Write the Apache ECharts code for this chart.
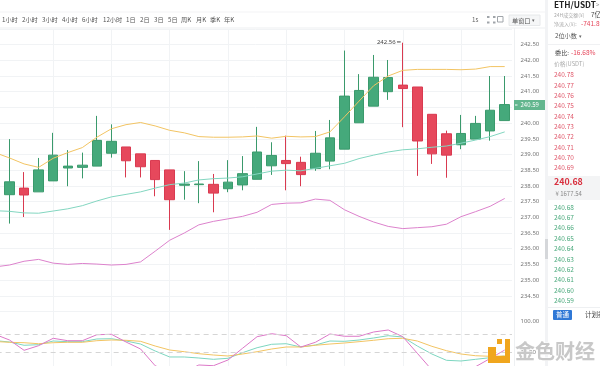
<!DOCTYPE html>
<html><head><meta charset="utf-8">
<style>html,body{margin:0;padding:0;background:#fff}#c{width:600px;height:366px}</style>
<script src="https://cdn.jsdelivr.net/npm/echarts@6/dist/echarts.min.js"></script>
</head><body><div id="c"></div>
<script>
// [open, close, low, high]; first slot is the bar cut off by the left edge of the window
const candles = [
 ['-','-','-','-'],
 [237.72,238.13,236.80,239.49],[237.93,237.71,237.01,238.44],[237.81,238.51,237.81,238.89],[238.16,238.98,238.16,239.69],
 [238.57,238.63,237.99,239.14],[238.59,238.66,238.24,239.06],[238.63,239.45,238.63,240.23],[239.04,239.42,238.90,239.96],
 [239.24,238.80,238.27,239.24],[239.02,238.61,238.27,239.02],[238.81,238.20,237.67,238.81],[238.51,237.56,236.60,238.51],
 [238.02,238.06,237.56,238.47],[238.04,238.06,237.45,238.79],[238.05,237.77,237.16,238.38],[237.91,238.12,237.80,238.82],
 [238.03,238.39,237.86,238.95],[238.21,239.08,238.21,239.88],[238.64,238.97,238.35,239.39],[238.81,238.71,237.86,239.60],
 [238.75,238.36,237.99,238.93],[238.55,239.04,238.48,239.75],[238.79,239.53,238.53,240.10],[239.17,240.86,239.17,242.31],
 [240.01,241.04,240.01,241.56],[240.54,241.46,240.54,242.17],[241.00,241.45,240.74,242.01],[241.21,241.10,239.87,242.56],
 [241.15,239.43,238.32,241.15],[240.28,239.02,238.70,240.28],[239.66,238.98,238.26,239.76],[239.31,239.67,239.17,240.26],
 [239.49,239.99,239.49,240.23],[239.75,240.41,239.44,241.50],[240.08,240.59,240.08,241.50]
];
const maOrange = [239.06,238.89,238.70,238.59,238.88,239.06,239.22,239.55,239.82,239.95,240.02,239.91,239.77,239.69,239.57,239.55,239.55,239.56,239.59,239.52,239.58,239.56,239.57,239.72,240.20,240.70,241.19,241.50,241.68,241.71,241.71,241.71,241.70,241.72,241.80,241.80];
const maTeal = [237.21,237.19,237.14,237.13,237.20,237.27,237.37,237.52,237.65,237.73,237.81,237.93,238.04,238.09,238.19,238.23,238.25,238.29,238.38,238.47,238.50,238.48,238.56,238.64,238.72,238.87,238.98,239.08,239.15,239.18,239.23,239.27,239.36,239.46,239.57,239.72];
const maPink = [235.42,235.48,235.60,235.66,235.54,235.50,235.53,235.51,235.48,235.50,235.58,235.92,236.27,236.50,236.76,236.87,236.95,237.03,237.16,237.41,237.45,237.46,237.58,237.54,237.24,237.03,236.85,236.71,236.64,236.67,236.70,236.78,237.02,237.18,237.35,237.60];
const kLine = [56,52.9,45.6,46.9,55.1,53.6,53.6,59.6,60.2,55.1,48.4,32.9,19.6,19.6,17.3,14.4,16.7,29.1,40.2,47.8,49.1,41.8,46.2,55.1,54.4,57.3,61.8,66.9,64,44,26.2,12.2,10.7,14.4,18,21.8];
const dLine = [54,52.2,51.3,49.1,51.3,52.2,52.2,55.8,57.3,56.7,54.4,44,35.1,31.3,26.9,24,21.8,26.2,31.3,37.3,41.8,41.8,45.6,48.4,50.7,53.6,56.7,60.2,61.1,55.1,43.3,33.6,26.2,22.4,21.1,21.8];
const jLine = [70,57.3,34.4,44.7,61.1,55.8,55.8,69.1,70,52.9,37.3,0.2,-13.8,-13.8,1.8,0.2,12.9,38.9,64.7,71.3,66.9,41.8,52.2,70.7,65.6,65.6,75.1,79.6,64.7,27.8,-9.3,-31.5,-31.5,-2,16.2,35.1];
const categories = candles.map((_, i) => String(i));
const periodTabs = [['1小时',2],['2小时',22],['3小时',42],['4小时',62],['6小时',82],['12小时',103],['1日',126],['2日',140],['3日',154],['5日',168],['周K',181],['月K',196],['季K',210],['年K',224]];
const askPrices = ['240.78','240.77','240.76','240.75','240.74','240.73','240.72','240.71','240.70','240.69'];
const bidPrices = ['240.68','240.67','240.66','240.65','240.64','240.63','240.62','240.61','240.60','240.59'];
const lastPrice = 240.59, highPrice = 242.56;

const UP='#45a97b', UPB='#3a9a6c', DN='#e6485c', DNB='#d93a50';
const FONT='"Noto Sans CJK SC","Noto Sans",sans-serif';
const txt=(x,y,t,o={})=>({type:'text',x,y,silent:true,z:o.z||20,style:{text:t,fill:o.c||'#666',font:(o.w||'normal')+' '+(o.s||6.2)+'px '+FONT,textVerticalAlign:'middle',opacity:o.o==null?1:o.o}});
const rect=(x,y,w,h,f,o={})=>({type:'rect',silent:true,z:o.z||10,shape:{x,y,width:w,height:h,r:o.r||0},style:{fill:f,stroke:o.s||null,lineWidth:o.s?1:0,opacity:o.o==null?1:o.o}});

const g=[];
g.push(rect(0,0,545,28,'#fff',{z:5}));
g.push(rect(0,11.5,545,1,'#f3f4f6',{z:6}));
g.push(rect(0,27.5,545,1,'#eef0f2',{z:6}));
g.push(rect(514,28,1,338,'#eef0f2',{z:6}));
periodTabs.forEach(p=>g.push(txt(p[1],20,p[0],{c:'#555'})));
g.push(txt(472,20,'1s',{c:'#666'}));
// screen / layout icons
[[487,16],[493,16],[487,21.5],[493,21.5]].forEach(p=>g.push(rect(p[0],p[1],2.5,2,'#a0a5aa',{z:12})));
g.push(rect(497.5,16.5,5.5,5.5,'#fff',{s:'#a0a5aa',z:12}));
g.push(rect(509,15,31,10.5,'#f5f6f7',{s:'#e6e8ea',z:12}));
g.push(txt(512,20.5,'单窗口',{c:'#555'}));
g.push(txt(532,20.5,'▾',{c:'#666',s:5}));
// right panel
g.push(rect(545,0,55,366,'#fff',{z:10}));
g.push(rect(545,0,3,366,'#f2f3f5',{z:11}));
g.push(rect(545,239,3,20,'#d5d7da',{z:12}));
g.push(txt(554,5,'ETH/USDT',{c:'#222',s:8.3,w:'bold'}));
g.push(txt(596,5,'>',{c:'#888',s:6}));
g.push(txt(554,15,'24H成交额(¥)',{c:'#aaa',s:5}));
g.push(txt(591,15,'7亿',{c:'#444',s:6.5}));
g.push(txt(554,24,'净流入(¥):',{c:'#aaa',s:5}));
g.push(txt(581,24,'-741.89',{c:'#e6485c',s:6.5}));
g.push(txt(555,36,'2位小数',{c:'#555'}));
g.push(txt(579,36,'▾',{c:'#666',s:5}));
g.push(rect(548,44,52,1,'#f0f1f3',{z:12}));
g.push(txt(555,52.5,'委比:',{c:'#444'}));
g.push(txt(571,52.5,'-16.68%',{c:'#e6485c',s:6.5}));
g.push(txt(554,64,'价格(USDT)',{c:'#aaa',s:5.8}));
askPrices.forEach((p,i)=>g.push(txt(554,74.7+i*10.35,p,{c:'#e05a6c',s:6.5})));
g.push(rect(548,176,52,24,'#f3f4f5',{z:11}));
g.push(txt(554,182,'240.68',{c:'#d9303f',s:8.8,w:'bold'}));
g.push(txt(555.5,193.5,'¥ 1677.54',{c:'#888',s:6}));
bidPrices.forEach((p,i)=>g.push(txt(554,207.3+i*10.35,p,{c:'#4aa97c',s:6.5})));
g.push(rect(548,307,52,1,'#eef0f2',{z:12}));
g.push(rect(553,310,19,10,'#2f78d6',{z:12,r:1}));
g.push(txt(556,315,'普通',{c:'#fff',s:6.5}));
g.push(txt(585,315,'计划委托',{c:'#444',s:6.5}));
// last-price tag
g.push(rect(514,100,31,10,'#62b68e',{z:13}));
g.push(rect(515,104.5,2.5,1,'#fff',{z:14}));
g.push(txt(520.5,105,lastPrice.toFixed(2),{c:'#fff',s:6,z:14}));
// watermark
g.push(rect(497,339,5,5,'#f0a61e',{z:30}));
g.push(rect(505,339,5,24,'#f0a61e',{z:30}));
g.push(rect(488,356,22,7,'#f0a61e',{z:30}));
g.push(rect(488,347,8,16,'#f0a61e',{z:30}));
g.push({type:'text',x:515,y:351,silent:true,z:33,style:{text:'金色财经',fill:'#c8c8c8',stroke:'#fff',lineWidth:1,font:'bold 20px '+FONT,textVerticalAlign:'middle'}});

const line=(name,data,color,xi,yi,w)=>({name,type:'line',data,xAxisIndex:xi,yAxisIndex:yi,symbol:'none',smooth:false,animation:false,silent:true,lineStyle:{color,width:w||1},z:3});
const chart=echarts.init(document.getElementById('c'),null,{renderer:'canvas'});
const W=14.565;
const splitX={show:true,alignWithLabel:true,interval:(i)=>i>0&&i%4===0,lineStyle:{color:'#f1f3f5',width:1}};
const axisFont={color:'#777',fontSize:6,fontFamily:'"Noto Sans",sans-serif',margin:6.5};
chart.setOption({
 animation:false,
 backgroundColor:'#fff',
 grid:[
  {left:9.5-1.5*W,width:36*W,top:28.9,height:282.6,outerBoundsMode:'none'},
  {left:9.5-1.5*W,width:36*W,top:311.8,height:72,outerBoundsMode:'none'}
 ],
 xAxis:[
  {type:'category',gridIndex:0,data:categories,axisLine:{show:false},axisTick:{show:false},axisLabel:{show:false},splitLine:splitX},
  {type:'category',gridIndex:1,data:categories,axisLine:{show:false},axisTick:{show:false},axisLabel:{show:false},splitLine:splitX}
 ],
 yAxis:[
  {type:'value',gridIndex:0,position:'right',offset:2,min:234,max:243,interval:0.5,axisLine:{show:false},axisTick:{show:false},
   splitLine:{lineStyle:{color:'#f1f3f5',width:1}},
   axisLabel:{...axisFont,formatter:v=>(v===234||v===243||v===240.5)?'':v.toFixed(2)}},
  {type:'value',gridIndex:1,position:'right',offset:2,min:-40,max:120,interval:10,axisLine:{show:false},axisTick:{show:false},splitLine:{show:false},
   axisLabel:{...axisFont,formatter:v=>(v===100||v===30)?v.toFixed(2):''}}
 ],
 graphic:g,
 series:[
  {name:'K',type:'candlestick',data:candles,barWidth:10,xAxisIndex:0,yAxisIndex:0,z:2,silent:true,
   itemStyle:{color:UP,color0:DN,borderColor:UPB,borderColor0:DNB,borderWidth:1},
   markPoint:{symbol:'circle',symbolSize:1,silent:true,animation:false,itemStyle:{color:'rgba(0,0,0,0)'},data:[{coord:[categories[28],highPrice],value:highPrice,
     label:{show:true,position:'left',distance:1,color:'#444',fontSize:6,fontFamily:'"Noto Sans",sans-serif',formatter:p=>p.value.toFixed(2)+' ━'}}]}},
  line('MA1',maOrange,'#f2c463',0,0),
  line('MA2',maTeal,'#83d6c0',0,0),
  line('MA3',maPink,'#dc82cc',0,0),
  Object.assign(line('K',kLine,'#7dd6c0',1,1),{markLine:{silent:true,symbol:'none',animation:false,label:{show:false},lineStyle:{color:'#d5d5d5',type:[5,4],width:1},data:[{yAxis:70},{yAxis:30}]}}),
  line('D',dLine,'#f2c463',1,1),
  line('J',jLine,'#dc78c8',1,1)
 ]
});
</script></body></html>
